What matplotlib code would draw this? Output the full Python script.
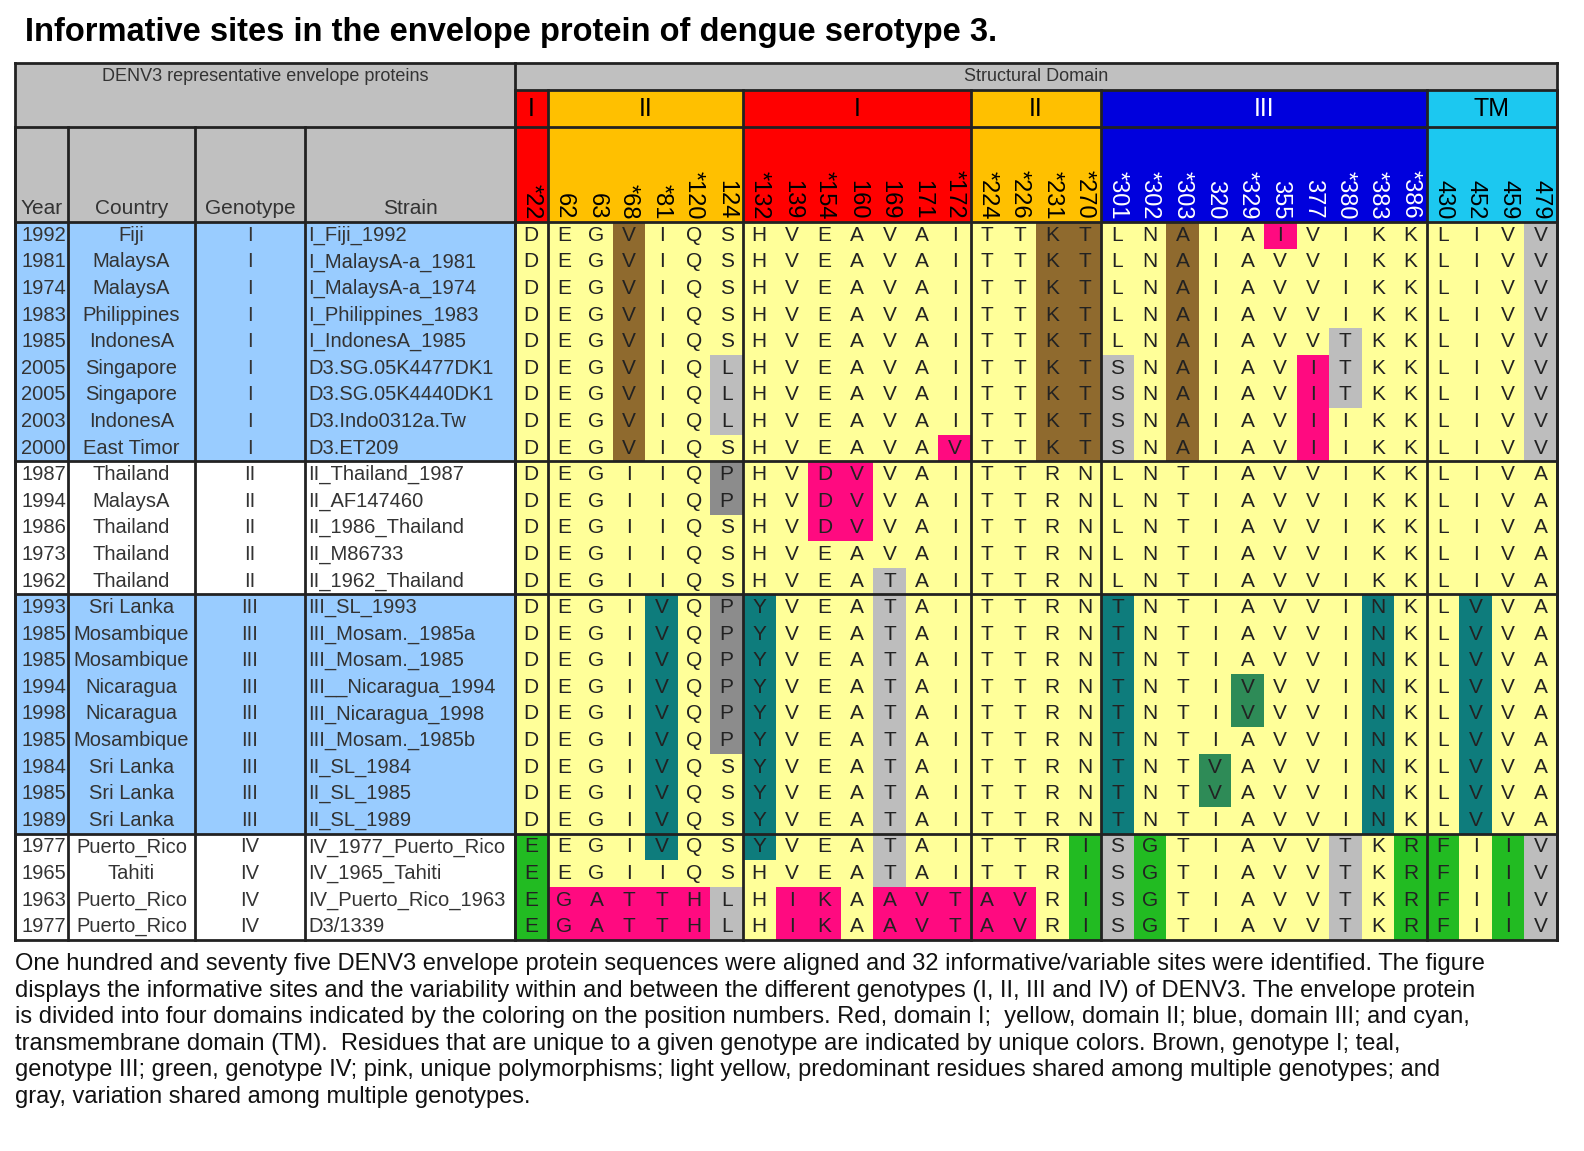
import matplotlib
matplotlib.use("Agg")
import matplotlib.pyplot as plt
from matplotlib.patches import Rectangle

plt.rcParams['font.family'] = ['Liberation Sans', 'DejaVu Sans']

# ---- data ----
positions = ['*22', '62', '63', '*68', '*81', '*120', '124', '*132', '139', '*154', '160', '169', '171', '*172',
             '*224', '*226', '*231', '*270', '*301', '*302', '*303', '320', '*329', '355', '377', '*380',
             '*383', '*386', '430', '452', '459', '479']
domains = [('I', 1), ('II', 6), ('I', 7), ('II', 4), ('III', 10), ('TM', 4)]

years = ['1992', '1981', '1974', '1983', '1985', '2005', '2005', '2003', '2000',
         '1987', '1994', '1986', '1973', '1962',
         '1993', '1985', '1985', '1994', '1998', '1985', '1984', '1985', '1989',
         '1977', '1965', '1963', '1977']
countries = ['Fiji', 'MalaysA', 'MalaysA', 'Philippines', 'IndonesA', 'Singapore', 'Singapore', 'IndonesA', 'East Timor',
             'Thailand', 'MalaysA', 'Thailand', 'Thailand', 'Thailand',
             'Sri Lanka', 'Mosambique', 'Mosambique', 'Nicaragua', 'Nicaragua', 'Mosambique', 'Sri Lanka', 'Sri Lanka', 'Sri Lanka',
             'Puerto_Rico', 'Tahiti', 'Puerto_Rico', 'Puerto_Rico']
genotypes = ['I'] * 9 + ['II'] * 5 + ['III'] * 9 + ['IV'] * 4
strains = ['I_Fiji_1992', 'I_MalaysA-a_1981', 'I_MalaysA-a_1974', 'I_Philippines_1983', 'I_IndonesA_1985',
           'D3.SG.05K4477DK1', 'D3.SG.05K4440DK1', 'D3.Indo0312a.Tw', 'D3.ET209',
           'II_Thailand_1987', 'II_AF147460', 'II_1986_Thailand', 'II_M86733', 'II_1962_Thailand',
           'III_SL_1993', 'III_Mosam._1985a', 'III_Mosam._1985', 'III__Nicaragua_1994', 'III_Nicaragua_1998',
           'III_Mosam._1985b', 'II_SL_1984', 'II_SL_1985', 'II_SL_1989',
           'IV_1977_Puerto_Rico', 'IV_1965_Tahiti', 'IV_Puerto_Rico_1963', 'D3/1339']

# residues per row (32 sites)
seqs = [
    'DEGVIQSHVEAVAITTKTLNAIAIVIKKLIVV',
    'DEGVIQSHVEAVAITTKTLNAIAVVIKKLIVV',
    'DEGVIQSHVEAVAITTKTLNAIAVVIKKLIVV',
    'DEGVIQSHVEAVAITTKTLNAIAVVIKKLIVV',
    'DEGVIQSHVEAVAITTKTLNAIAVVTKKLIVV',
    'DEGVIQLHVEAVAITTKTSNAIAVITKKLIVV',
    'DEGVIQLHVEAVAITTKTSNAIAVITKKLIVV',
    'DEGVIQLHVEAVAITTKTSNAIAVIIKKLIVV',
    'DEGVIQSHVEAVAVTTKTSNAIAVIIKKLIVV',
    'DEGIIQPHVDVVAITTRNLNTIAVVIKKLIVA',
    'DEGIIQPHVDVVAITTRNLNTIAVVIKKLIVA',
    'DEGIIQSHVDVVAITTRNLNTIAVVIKKLIVA',
    'DEGIIQSHVEAVAITTRNLNTIAVVIKKLIVA',
    'DEGIIQSHVEATAITTRNLNTIAVVIKKLIVA',
    'DEGIVQPYVEATAITTRNTNTIAVVINKLVVA',
    'DEGIVQPYVEATAITTRNTNTIAVVINKLVVA',
    'DEGIVQPYVEATAITTRNTNTIAVVINKLVVA',
    'DEGIVQPYVEATAITTRNTNTIVVVINKLVVA',
    'DEGIVQPYVEATAITTRNTNTIVVVINKLVVA',
    'DEGIVQPYVEATAITTRNTNTIAVVINKLVVA',
    'DEGIVQSYVEATAITTRNTNTVAVVINKLVVA',
    'DEGIVQSYVEATAITTRNTNTVAVVINKLVVA',
    'DEGIVQSYVEATAITTRNTNTIAVVINKLVVA',
    'EEGIVQSYVEATAITTRISGTIAVVTKRFIIV',
    'EEGIIQSHVEATAITTRISGTIAVVTKRFIIV',
    'EGATTHLHIKAAVTAVRISGTIAVVTKRFIIV',
    'EGATTHLHIKAAVTAVRISGTIAVVTKRFIIV',
]

# colour code per cell: y light yellow, b brown, t teal, g green, p pink, s gray, d dark gray, m sea green
codes = [
    'yyybyyyyyyyyyyyybbyybyypyyyyyyys',
    'yyybyyyyyyyyyyyybbyybyyyyyyyyyys',
    'yyybyyyyyyyyyyyybbyybyyyyyyyyyys',
    'yyybyyyyyyyyyyyybbyybyyyyyyyyyys',
    'yyybyyyyyyyyyyyybbyybyyyysyyyyys',
    'yyybyysyyyyyyyyybbsybyyypsyyyyys',
    'yyybyysyyyyyyyyybbsybyyypsyyyyys',
    'yyybyysyyyyyyyyybbsybyyypyyyyyys',
    'yyybyyyyyyyyypyybbsybyyypyyyyyys',
    'yyyyyydyyppyyyyyyyyyyyyyyyyyyyyy',
    'yyyyyydyyppyyyyyyyyyyyyyyyyyyyyy',
    'yyyyyyyyyppyyyyyyyyyyyyyyyyyyyyy',
    'yyyyyyyyyyyyyyyyyyyyyyyyyyyyyyyy',
    'yyyyyyyyyyysyyyyyyyyyyyyyyyyyyyy',
    'yyyytydtyyysyyyyyytyyyyyyytyytyy',
    'yyyytydtyyysyyyyyytyyyyyyytyytyy',
    'yyyytydtyyysyyyyyytyyyyyyytyytyy',
    'yyyytydtyyysyyyyyytyyymyyytyytyy',
    'yyyytydtyyysyyyyyytyyymyyytyytyy',
    'yyyytydtyyysyyyyyytyyyyyyytyytyy',
    'yyyytyytyyysyyyyyytyymyyyytyytyy',
    'yyyytyytyyysyyyyyytyymyyyytyytyy',
    'yyyytyytyyysyyyyyytyyyyyyytyytyy',
    'gyyytyytyyysyyyyygsgyyyyysyggygs',
    'gyyyyyyyyyysyyyyygsgyyyyysyggygs',
    'gpppppsyppypppppygsgyyyyysyggygs',
    'gpppppsyppypppppygsgyyyyysyggygs',
]

caption = ("One hundred and seventy five DENV3 envelope protein sequences were aligned and 32 informative/variable sites were identified. The figure\n"
           "displays the informative sites and the variability within and between the different genotypes (I, II, III and IV) of DENV3. The envelope protein\n"
           "is divided into four domains indicated by the coloring on the position numbers. Red, domain I;  yellow, domain II; blue, domain III; and cyan,\n"
           "transmembrane domain (TM).  Residues that are unique to a given genotype are indicated by unique colors. Brown, genotype I; teal,\n"
           "genotype III; green, genotype IV; pink, unique polymorphisms; light yellow, predominant residues shared among multiple genotypes; and\n"
           "gray, variation shared among multiple genotypes.")

# ---- styling ----
cell_col = {'y': '#ffff99', 'b': '#8f6a2e', 't': '#0e7c7c', 'g': '#22bb22', 'p': '#ff0a80',
            's': '#bdbdbd', 'd': '#8c8c8c', 'm': '#2e8b57'}
dom_col = {'I': '#ff0000', 'II': '#ffc000', 'III': '#0000dd', 'TM': '#1cc8f0'}
dom_txt = {'I': 'black', 'II': 'black', 'III': 'white', 'TM': 'black'}
blue = '#99ccff'
grey_hdr = '#c0c0c0'

fig = plt.figure(figsize=(15.84, 11.51), dpi=100)
ax = fig.add_axes([0, 0, 1, 1])
ax.set_xlim(0, 1584)
ax.set_ylim(1151, 0)
ax.axis('off')

x0, x1 = 515, 1557
cw = (x1 - x0) / len(positions)
ytop, ydom, ypos, yrow = 63, 90, 127, 222
rh = (940 - yrow) / len(years)
left_cols = [15, 68, 195, 305, 515]

ax.text(25, 32, 'Informative sites in the envelope protein of dengue serotype 3.',
        fontsize=23.5, fontweight='bold', va='center', ha='left')

# header
ax.add_patch(Rectangle((15, ytop), x0 - 15, ypos - ytop, fc=grey_hdr, ec='none'))
ax.text((15 + x0) / 2, 76, 'DENV3 representative envelope proteins', fontsize=13, ha='center', va='center', color='#333')
ax.add_patch(Rectangle((15, ypos), x0 - 15, yrow - ypos, fc=grey_hdr, ec='none'))
for lab, a, b in zip(['Year', 'Country', 'Genotype', 'Strain'], left_cols[:-1], left_cols[1:]):
    ax.text((a + b) / 2, yrow - 4, lab, fontsize=15, ha='center', va='bottom', color='#333')
ax.add_patch(Rectangle((x0, ytop), x1 - x0, ydom - ytop, fc=grey_hdr, ec='none'))
ax.text((x0 + x1) / 2, 76, 'Structural Domain', fontsize=13, ha='center', va='center', color='#333')

col = 0
dom_of_col = []
dom_bounds = []
for name, n in domains:
    xa = x0 + col * cw
    ax.add_patch(Rectangle((xa, ydom), n * cw, yrow - ydom, fc=dom_col[name], ec='none'))
    ax.text(xa + n * cw / 2, (ydom + ypos) / 2, name, fontsize=18, ha='center', va='center', color=dom_txt[name])
    dom_of_col += [name] * n
    col += n
    dom_bounds.append(x0 + col * cw)
for j, p in enumerate(positions):
    ax.text(x0 + (j + 0.5) * cw, yrow - 3, p, rotation=270, fontsize=17, ha='center', va='bottom',
            color=dom_txt[dom_of_col[j]])

# body
for i in range(len(years)):
    y = yrow + i * rh
    fc = blue if genotypes[i] in ('I', 'III') else 'white'
    ax.add_patch(Rectangle((15, y), x0 - 15, rh, fc=fc, ec='none'))
    ax.text(left_cols[1] - 2, y + rh / 2, years[i], fontsize=14.5, ha='right', va='center', color='#333')
    ax.text((left_cols[1] + left_cols[2]) / 2, y + rh / 2, countries[i], fontsize=14.5, ha='center', va='center', color='#333')
    ax.text((left_cols[2] + left_cols[3]) / 2, y + rh / 2, genotypes[i], fontsize=14.5, ha='center', va='center', color='#333')
    ax.text(left_cols[3] + 3, y + rh / 2, strains[i], fontsize=14.5, ha='left', va='center', color='#333')
    for j, r in enumerate(seqs[i]):
        c = codes[i][j]
        ax.add_patch(Rectangle((x0 + j * cw, y), cw, rh, fc=cell_col[c], ec='none'))
        ax.text(x0 + (j + 0.5) * cw, y + rh / 2, r, fontsize=15, ha='center', va='center', color='#222')

# grid lines
ybot = yrow + len(years) * rh
for xv in left_cols:
    ax.plot([xv, xv], [ypos, ybot], color='#222', lw=2)
for xv in [x0] + dom_bounds:
    ax.plot([xv, xv], [ydom, ybot], color='#222', lw=2)
ax.plot([x1, x1], [ytop, ybot], color='#222', lw=2)
ax.plot([15, 15], [ytop, ybot], color='#222', lw=2)
for yv in [ytop, ydom, ypos, yrow, ybot]:
    xa = x0 if yv == ydom else 15
    ax.plot([xa, x1], [yv, yv], color='#222', lw=2)
ax.plot([x0, x0], [ytop, ybot], color='#222', lw=2)
cum = 0
for g in ['I', 'II', 'III']:
    cum += genotypes.count(g)
    ax.plot([15, x1], [yrow + cum * rh] * 2, color='#222', lw=2)

ax.text(15, 953, caption, fontsize=17, ha='left', va='top', linespacing=1.27, color='#111')

fig.savefig('out.png', dpi=100)
